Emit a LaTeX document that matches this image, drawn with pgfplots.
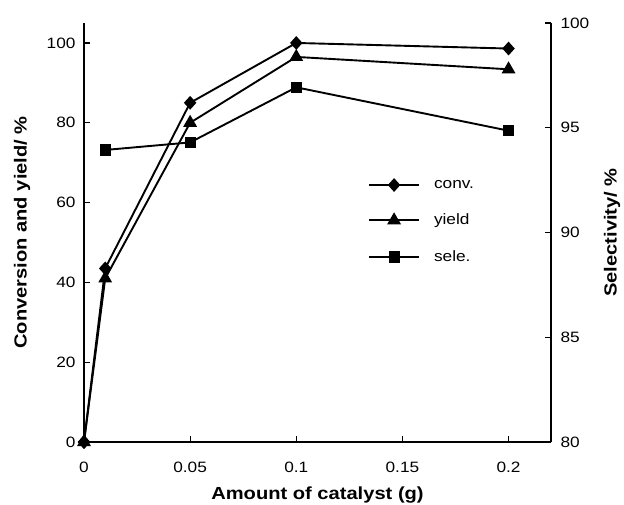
\documentclass[border=0pt]{standalone}
\usepackage{fontspec}
\setmainfont{Liberation Sans}[FakeStretch=1.15]
\usepackage{pgfplots}
\pgfplotsset{compat=1.18}
\begin{document}
\begin{tikzpicture}
\useasboundingbox (-84pt,-62pt) rectangle (540pt,442pt);
\pgfplotsset{
  every axis/.append style={
    scale only axis, width=467pt, height=419pt,
    xmin=0, xmax=0.22,
    tick align=inside, major tick length=6pt,
    tick style={black, line width=1.2pt},
    axis line style={line width=1.2pt},
    tick label style={font=\fontsize{15}{18}\selectfont},
    label style={font=\fontsize{17.5}{20}\selectfont\bfseries},
    /pgf/number format/assume math mode=true,
  },
  conv/.style={black, line width=1.9pt, mark=diamond*, mark size=5.5pt, mark options={xscale=1.2}},
  yield/.style={black, line width=1.9pt, mark=triangle*, mark size=6.1pt},
  sele/.style={black, line width=1.9pt, mark=square*, mark size=4.6pt},
}
\begin{axis}[
  at={(0,0)},
  axis y line*=left,
  axis x line*=bottom,
  ymin=0, ymax=105,
  ytick={0,20,40,60,80,100},
  xtick={0,0.05,0.1,0.15,0.2},
  xticklabels={0,0.05,0.1,0.15,0.2},
  xticklabel style={yshift=-16pt},
  yticklabel style={xshift=-5pt},
  xlabel={Amount of catalyst (g)},
  ylabel={Conversion and yield/ \%},
  xlabel style={at={(axis description cs:0.5,-0.1265)}, anchor=center},
  ylabel style={at={(axis description cs:-0.1328,0.5)}, anchor=center},
  clip=false,
]
\addplot[conv] coordinates {(0,0) (0.01,43.5) (0.05,85) (0.1,100) (0.2,98.6)};
\addplot[yield] coordinates {(0,0) (0.01,41) (0.05,80) (0.1,96.5) (0.2,93.4)};
\addplot[conv] coordinates {(0,0)};
\end{axis}
\begin{axis}[
  at={(0,0)},
  axis y line*=right,
  axis x line=none,
  ymin=80, ymax=100,
  ytick={80,85,90,95,100},
  yticklabel style={xshift=6pt},
  ylabel={Selectivity/ \%},
  ylabel style={at={(axis description cs:1.1306,0.5)}, anchor=center, rotate=0},
  legend style={draw=none, fill=none, at={(0.608,0.630)}, anchor=north west,
    font=\fontsize{15}{18}\selectfont, row sep=20.3pt, inner sep=0pt,
    /tikz/every odd column/.append style={column sep=12pt}},
  legend cell align=left,
  legend image code/.code={\draw[mark repeat=2,mark phase=2,#1] plot coordinates {(0pt,0pt) (25pt,0pt) (50pt,0pt)};},
  clip=false,
]
\addlegendimage{conv}
\addlegendentry{conv.}
\addlegendimage{yield}
\addlegendentry{yield}
\addlegendimage{sele}
\addlegendentry{sele.}
\addplot[sele, forget plot] coordinates {(0.01,93.94) (0.05,94.3) (0.1,96.93) (0.2,94.86)};
\end{axis}
\end{tikzpicture}
\end{document}
